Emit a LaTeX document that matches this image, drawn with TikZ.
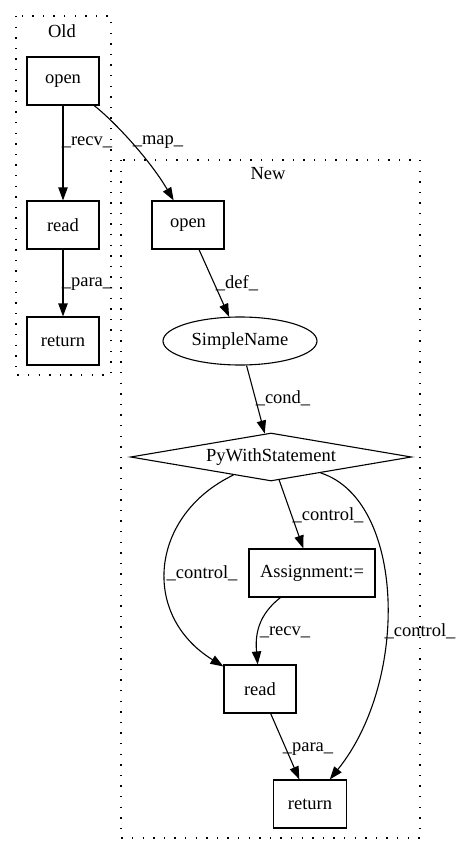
\documentclass[tikz,border=0pt]{standalone}
\usepackage{fontspec}
\setmainfont{Liberation Serif}
\usetikzlibrary{arrows.meta,shapes.geometric}
\begin{document}
\begin{tikzpicture}[x=1pt,y=-1pt,
  every node/.style={font=\fontsize{18.5}{22}\selectfont},
  box/.style={draw,line width=1.1pt,rectangle,minimum width=72pt,minimum height=48pt,inner sep=0pt},
  ell/.style={draw,line width=1.1pt,ellipse,minimum width=154pt,minimum height=48pt,inner sep=0pt},
  dia/.style={draw,line width=1.1pt,diamond,aspect=5.85,minimum width=281pt,minimum height=48pt,inner sep=0pt},
  edge/.style={draw,line width=1.1pt,-{Triangle[length=13pt,width=9.3pt]}},
  lbl/.style={inner sep=0pt},
  cluster/.style={draw,line width=1.4pt,dash pattern=on 1.4pt off 9.2pt}]
\useasboundingbox (0,0) rectangle (461,856);
% clusters
\draw[cluster] (16,16) rectangle (111,375);
\node[lbl] (oldlbl) at (62,31) {Old};
\draw[cluster] (121,160) rectangle (420,838);
\node[lbl] (newlbl) at (268,174) {New};
% old nodes
\node[box] (oopen) at (63,81) {open};
\node[box] (oread) at (63,225) {read};
\node[box] (oret) at (63,341) {return};
% new nodes
\node[box] (nopen) at (188,225) {open};
\node[ell] (sname) at (240,341) {SimpleName};
\node[dia] (pyw) at (271,457) {PyWithStatement};
\node[box,minimum width=126pt] (assign) at (312,573) {Assignment:=};
\node[box] (nread) at (260,689) {read};
\node[box,minimum width=73pt] (nret) at (310,804) {return};
% edges
\draw[edge] (oopen) -- (oread) node[lbl,at={(87,142)}] {\_recv\_};
\draw[edge] (oopen) .. controls (115,122) and (150,160) .. (nopen) node[lbl,at={(158,142)}] {\_map\_};
\draw[edge] (oread) -- (oret) node[lbl,at={(87,284)}] {\_para\_};
\draw[edge] (nopen) -- (sname) node[lbl,at={(237,283)}] {\_def\_};
\draw[edge] (sname) -- (pyw) node[lbl,at={(283,398)}] {\_cond\_};
\draw[edge] (pyw) -- (assign) node[lbl,at={(328,515)}] {\_control\_};
\draw[edge] (pyw) .. controls (150,515) and (140,615) .. (nread) node[lbl,at={(202,573)}] {\_control\_};
\draw[edge] (pyw) .. controls (405,500) and (410,680) .. (nret) node[lbl,at={(420,631)}] {\_control\_};
\draw[edge] (assign) .. controls (258,615) and (255,635) .. (nread) node[lbl,at={(285,632)}] {\_recv\_};
\draw[edge] (nread) -- (nret) node[lbl,at={(308,749)}] {\_para\_};
\end{tikzpicture}
\end{document}
